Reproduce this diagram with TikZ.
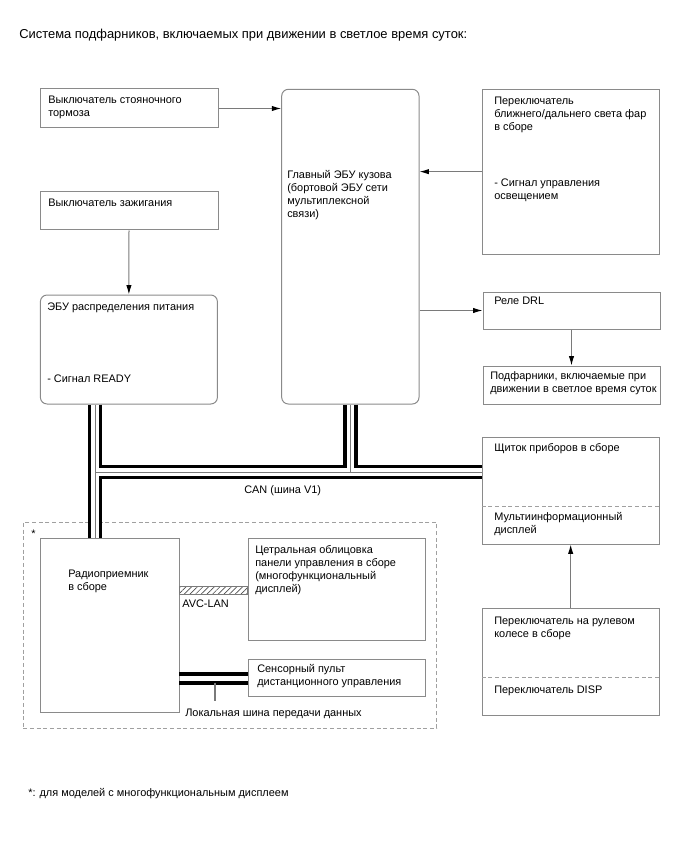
\documentclass[tikz,border=0pt]{standalone}
\usepackage{fontspec}
\setmainfont{Liberation Sans}
\usepackage{tikz}
\usetikzlibrary{arrows.meta, positioning, fit, patterns.meta}
\definecolor{drlRamka}{HTML}{8A8A8A}
\definecolor{drlLinha}{HTML}{7A7A7A}
\definecolor{drlPonto}{HTML}{A0A0A0}

\begin{document}
\begin{tikzpicture}[x=0.75pt, y=-0.75pt, font=\fontsize{8.2}{9.8}\selectfont]
  \tikzset{
    blk/.style={draw=drlRamka, line width=0.75pt, inner sep=0pt, fit={#1}},
    rblk/.style={blk={#1}, rounded corners=5pt},
    optbox/.style={draw=drlPonto, line width=0.75pt, inner sep=0pt, fit={#1},
                   dash pattern=on 3pt off 2pt},
    txt/.style={anchor=north west, align=left, inner sep=0pt},
    arr/.style={draw=drlLinha, line width=0.75pt,
                -{Latex[length=7pt, width=4pt, color=black]}},
    busA/.style={line width=11pt, black},
    busB/.style={line width=5.6pt, white},
    busC/.style={line width=0.6pt, drlLinha},
    lbus/.style={line width=3pt, black},
    divd/.style={draw=drlPonto, dash pattern=on 3pt off 2pt, line width=0.6pt}}
  \useasboundingbox (0,0) rectangle (688,852);

  % bloki
  \node[blk={(40,89) (218,128)}] (park) {};
  \node[blk={(40,192) (218,230)}] (ign) {};
  \node[rblk={(281.7,89.3) (419,404)}] (ecu) {};
  \node[blk={(482.3,89.3) (659.3,254)}] (hsw) {};
  \node[rblk={(40.4,295) (217.4,404)}] (pwr) {};
  \node[blk={(483,292) (660,329)}] (relay) {};
  \node[blk={(483,366) (660,404)}] (drl) {};
  \node[blk={(482.3,437.3) (659,544)}] (meter) {};
  \node[blk={(482.3,608.3) (659,715)}] (steer) {};
  \node[optbox={(23.3,522.3) (436.7,728.3)}] (opt) {};
  \node[blk={(40,538.3) (179,712.3)}] (radio) {};
  \node[blk={(248.3,538.3) (425,640)}] (panel) {};
  \node[blk={(248.3,659.3) (425,696.7)}] (touch) {};

  \draw[divd] (meter.west |- 0,506) -- (meter.east |- 0,506);
  \draw[divd] (steer.west |- 0,677.3) -- (steer.east |- 0,677.3);

  % teksty
  \node[txt, font=\fontsize{9.7}{11}\selectfont] (title) at (19,28.8)
    {Система подфарников, включаемых при движении в светлое время суток:};
  \node[txt] (park-t) at (48,95.3) {Выключатель стояночного\\тормоза};
  \node[txt] (ign-t) at (48,198.7) {Выключатель зажигания};
  \node[txt] (ecu-t) at (287,170)
    {Главный ЭБУ кузова\\(бортовой ЭБУ сети\\мультиплексной\\связи)};
  \node[txt] (hsw-t) at (494,96.7) {Переключатель\\ближнего/дальнего света фар\\в сборе};
  \node[txt] (hsw-s) at (494,178.7) {- Сигнал управления\\освещением};
  \node[txt] (pwr-t) at (47,302.7) {ЭБУ распределения питания};
  \node[txt] (pwr-s) at (47,375) {- Сигнал READY};
  \node[txt] (relay-t) at (494,296.7) {Реле DRL};
  \node[txt] (drl-t) at (490,371) {Подфарники, включаемые при\\движении в светлое время суток};
  \node[txt] (meter-t) at (494,443.3) {Щиток приборов в сборе};
  \node[txt] (meter-s) at (494,512) {Мультиинформационный\\дисплей};
  \node[txt] (steer-t) at (494,617) {Переключатель на рулевом\\колесе в сборе};
  \node[txt] (steer-s) at (494,685.3) {Переключатель DISP};
  \node[txt] (radio-t) at (68,569.3) {Радиоприемник\\в сборе};
  \node[txt] (panel-t) at (255,545.3)
    {Цетральная облицовка\\панели управления в сборе\\(многофункциональный\\дисплей)};
  \node[txt] (touch-t) at (257,664.3) {Сенсорный пульт\\дистанционного управления};
  \node[txt] (can-t) at (244,485) {CAN (шина V1)};
  \node[txt] (avc-t) at (182,600) {AVC-LAN};
  \node[txt] (lbus-t) at (185,708.7) {Локальная шина передачи данных};
  \node[txt] (opt-t) at (31,530) {*};
  \node[txt] (note) at (28,788) {*: для моделей с многофункциональным дисплеем};

  % strelki
  \draw[arr] (park.east) -- (park.east -| ecu.west);
  \draw[arr] (ign.south) -- (pwr.north);
  \draw[arr] (hsw.west) -- (hsw.west -| ecu.east);
  \draw[arr] (relay.west -| ecu.east) -- (relay.west);
  \draw[arr] (relay.south) -- (drl.north);
  \draw[arr] (steer.north) -- (meter.south);

  % shina CAN
  \coordinate (cj) at (95,472);
  \foreach \s in {busA,busB,busC}{
    \draw[\s] (pwr.south -| cj) -- (radio.north -| cj);
    \draw[\s] (cj) -- (cj -| meter.west);
    \draw[\s] (ecu.south) -- (ecu.south |- cj);}

  % AVC-LAN i lokalnaya shina
  \coordinate (avc1) at (179,586.7);
  \coordinate (avc2) at (248.3,594);
  \draw[draw=drlLinha, line width=0.6pt,
        pattern={Lines[angle=45, distance=3pt, line width=0.5pt]}, pattern color=black!70]
    (radio.east |- avc1) rectangle (panel.west |- avc2);
  \coordinate (lb1) at (179,674);
  \coordinate (lb2) at (179,682.7);
  \coordinate (lbd) at (215,700.7);
  \draw[lbus] (lb1) -- (lb1 -| touch.west);
  \draw[lbus] (lb2) -- (lb2 -| touch.west);
  \draw[drlLinha, line width=1.1pt] (lbd |- lb2) -- (lbd);
\end{tikzpicture}
\end{document}
